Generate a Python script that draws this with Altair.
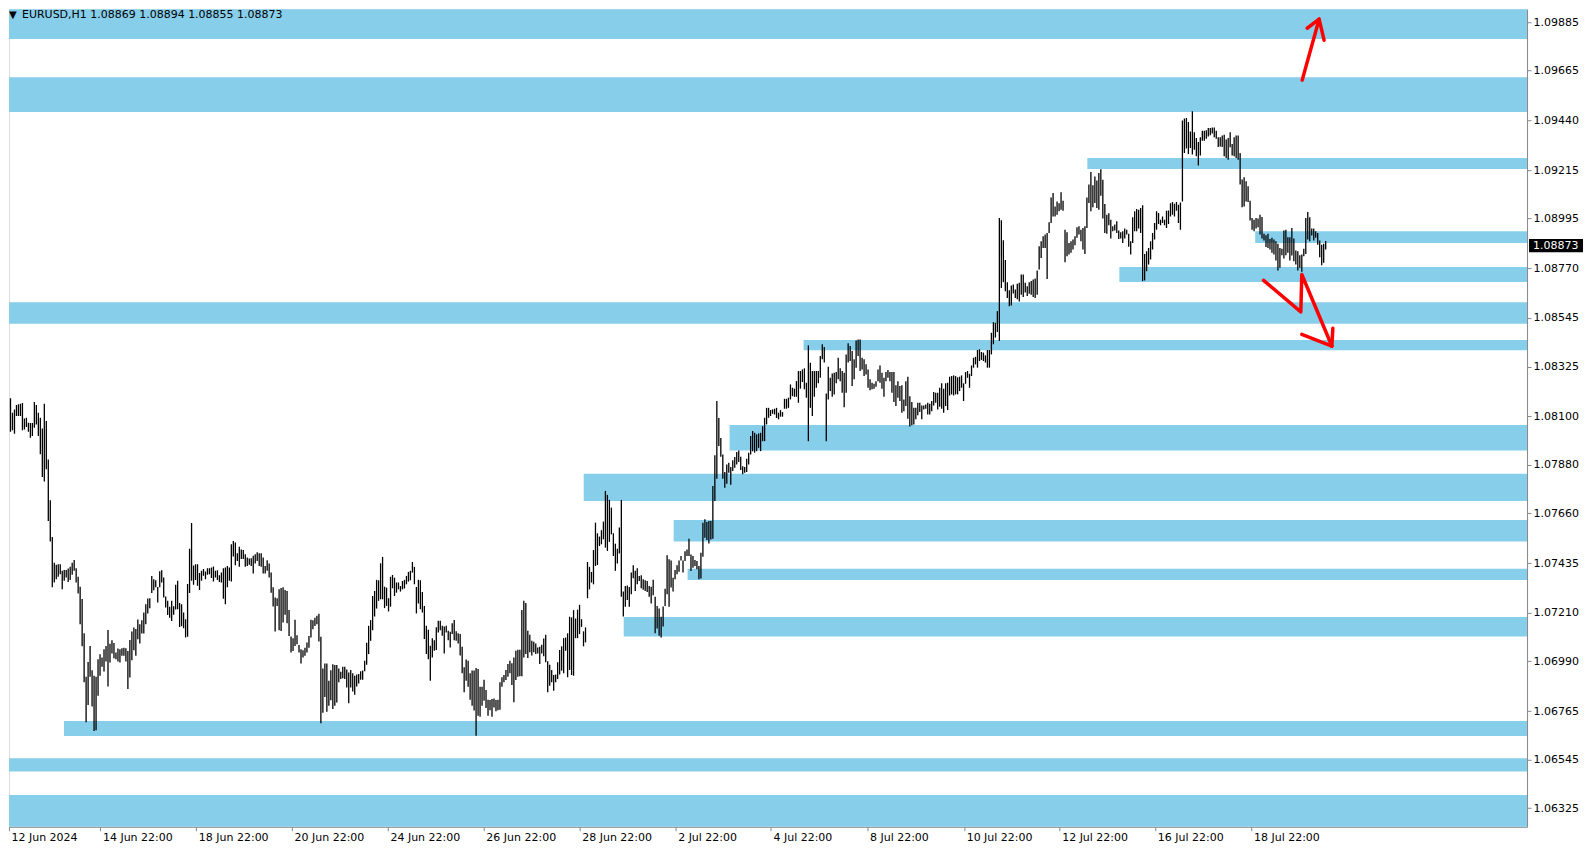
import altair as alt
import pandas as pd

# ---------------- data (prices in 1e-5 units: price = 1 + pts/100000) ----------------
high_pts = [
 8181,8116,8131,8151,8154,8157,8160,8090,8093,8071, 8069,8069,8164,8151,8116,8093,8045,8157,8078,7904,
 7720,7553,7437,7427,7430,7430,7400,7404,7404,7410, 7418,7437,7449,7412,7373,7328,7272,7117,6920,6987,
 7060,6950,6925,6920,7000,7022,7007,7045,7060,7132, 7070,7085,7073,7030,7048,7045,7049,7052,7049,7037,
 7087,7125,7143,7136,7179,7158,7176,7211,7249,7275, 7276,7377,7362,7357,7327,7398,7403,7370,7284,7264,
 7237,7264,7240,7337,7355,7254,7249,7211,7181,7340, 7500,7617,7424,7430,7430,7390,7400,7408,7397,7412,
 7412,7415,7420,7400,7403,7380,7392,7412,7415,7422, 7415,7520,7535,7528,7480,7509,7497,7494,7475,7460,
 7456,7457,7468,7475,7484,7480,7480,7460,7422,7448, 7433,7392,7325,7279,7276,7317,7322,7325,7313,7309,
 7223,7102,7095,7178,7108,7064,7045,7040,7052,7075, 7105,7178,7176,7188,7196,7206,7101,6958,6980,6980,
 6902,6950,6977,6974,6974,6958,6943,6965,6965,
 6953,6940,6951,6936,6925,6930,6933,6945,6948,6993, 7074,7151,7177,7286,7309,7359,7357,7434,7463,7328,
 7324,7276,7373,7381,7369,7347,7347,7331,7354,7359, 7377,7395,7400,7440,7418,7327,7359,7357,7304,7241,
 7151,7133,7061,7095,7086,7144,7174,7174,7151,7148, 7151,7129,7124,7163,7177,7126,7117,7114,7056,6963,
 6998,6993,6936,6948,6948,6960,6955,6875,6875,6907, 6860,6816,6815,6819,6822,6815,6816,6895,6918,6928,
 6951,6978,6993,6981,7008,7038,7043,7043,7222,7264, 7254,7129,7111,7083,7079,7071,7053,7056,7065,7094,
 7111,6990,6975,6951,6928,6930,6986,7041,7058,7095, 7098,7117,7192,7189,7222,7184,7224,7246,7181,7126,
 7144,7440,7418,7395,7494,7618,7570,7555,7584,7623, 7762,7744,7721,7686,7570,7523,7500,7596,7721,7306,
 7331,7334,7327,7392,7425,7400,7412,7377,7380,7362, 7357,7354,7331,7328,7359,7282,7241,7229,7192,7238,
 7319,7470,7452,7447,7369,7404,7425,7447,7467,7447,
 7489,7497,7545,7474,7467,7449,7444,7422,7482,7618, 7633,7621,7626,7626,7784,7923,8169,8092,8001,7927,
 7847,7882,7889,7870,7901,7915,7938,7945,7917,7874, 7870,7908,7935,8010,8033,8025,8018,8022,8025,8055,
 8093,8138,8138,8128,8131,8134,8138,8116,8128,8119, 8179,8179,8184,8244,8229,8225,8259,8305,8305,8312,
 8317,8252,8421,8342,8305,8305,8305,8305,8373,8426, 8414,8203,8324,8274,8294,8297,8300,8365,8317,8305,
 8297,8380,8430,8418,8395,8358,8443,8448,8448,8365, 8358,8335,8312,8267,8252,8247,8259,8312,8330,8297,
 8274,8300,8309,8300,8300,8300,8240,8259,8237,8240, 8176,8259,8279,8191,8164,8138,8138,8161,8161,8149,
 8149,8153,8161,8156,8169,8210,8206,8206,8229,8249, 8225,8249,8252,8279,8282,8285,8282,8276,8279,8285,
 8249,8300,8305,8292,8330,8365,8369,8400,8403,8391, 8388,8376,8400,8400,8478,8526,8523,8576,8998,8988,
 8897,8807,8707,8671,8692,8697,8674,
 8700,8704,8742,8742,8704,8689,8707,8712,8719,8724, 8760,8870,8893,8915,8923,8930,8978,9091,9111,9050,
 9073,9065,9114,9076,8945,8933,8885,8893,8900,8915, 8956,8960,8945,8953,8960,9091,9149,9206,9146,9186,
 9167,9201,9219,9171,9061,9013,9019,8990,8960,8968, 8983,8941,8933,8938,8950,8945,8926,8893,9001,9028,
 9039,9035,9043,9055,8835,8847,8862,8893,8930,8975, 9028,9020,8990,9005,8990,9031,9032,9065,9070,9062,
 9070,9058,9068,9439,9448,9451,9433,9390,9481,9386, 9360,9342,9363,9393,9393,9395,9405,9405,9408,9408,
 9393,9363,9363,9371,9375,9353,9360,9386,9333,9363, 9371,9371,9292,9172,9182,9164,9141,9076,8998,8990,
 8998,8995,9013,9002,8926,8920,8926,8903,8908,8900, 8893,8881,8862,8859,8941,8945,8911,8911,8953,8905,
 8850,8847,8829,8832,8859,8998,9025,9001,8950,8950, 8938,8930,8896,8877,8881,8894,
]
low_pts = [
 8030,8036,8021,8101,8101,8101,8036,8040,8051,8030, 8003,8010,8048,8063,8010,7928,7825,7804,7860,7626,
 7533,7325,7347,7362,7373,7385,7316,7355,7370,7349, 7358,7382,7400,7347,7297,7158,7058,6895,6714,6792,
 6920,6785,6675,6678,6834,6925,6965,6944,6989,6876, 6985,7025,7004,7000,6989,6985,7015,7015,6989,6865,
 6917,6995,7040,7015,7090,7071,7116,7116,7158,7207, 7231,7299,7312,7325,7256,7325,7347,7279,7234,7200,
 7188,7173,7201,7225,7226,7146,7149,7140,7098,7101, 7299,7355,7337,7358,7332,7313,7355,7378,7362,7382,
 7385,7367,7352,7370,7358,7349,7347,7273,7249,7325, 7355,7352,7465,7425,7445,7418,7453,7453,7418,7422,
 7427,7422,7388,7433,7445,7422,7418,7388,7388,7400, 7370,7301,7238,7125,7241,7131,7128,7166,7201,7163,
 7105,7030,7037,7060,7067,7030,6980,7007,7015,7030, 7052,7098,7135,7150,7158,7080,6710,6757,6829,6762,
 6789,6814,6774,6789,6804,6895,6910,6914,6910,
 6872,6800,6872,6854,6839,6876,6890,6907,6907,6945, 6975,7023,7083,7131,7193,7229,7264,7271,7271,7231,
 7241,7216,7238,7321,7286,7301,7316,7306,7316,7320, 7339,7351,7357,7392,7339,7207,7252,7226,7211,7091,
 7023,7000,6902,7008,7038,7041,7121,7131,7106,7026, 7121,7086,7053,7114,7086,7083,7071,7016,6936,6850,
 6902,6875,6816,6789,6767,6653,6744,6739,6789,6812, 6779,6744,6769,6739,6781,6764,6769,6771,6875,6895,
 6905,6920,6936,6883,6805,6905,6920,6922,6922,7008, 7023,7005,7031,7016,7031,7023,7026,6978,7026,7013,
 6986,6850,6880,6895,6857,6895,6910,6930,6948,6936, 7038,6918,6951,6928,6925,7095,7095,7114,7146,7058,
 7076,7276,7316,7347,7339,7422,7426,7512,7520,7543, 7505,7490,7531,7565,7467,7400,7433,7478,7282,7193,
 7237,7268,7237,7294,7366,7309,7339,7354,7321,7314, 7309,7304,7282,7252,7289,7117,7139,7106,7098,7148,
 7241,7294,7237,7324,7306,7362,7384,7396,7447,7392,
 7444,7467,7467,7399,7414,7422,7407,7362,7365,7464, 7550,7539,7524,7542,7545,7716,7817,7965,7916,7817,
 7776,7794,7844,7790,7852,7867,7882,7893,7856,7837, 7844,7847,7882,7927,7942,7935,7942,7957,7942,7987,
 7987,8063,8093,8101,8111,8108,8092,8086,8098,8098, 8134,8134,8138,8176,8191,8188,8188,8161,8225,8255,
 8222,8184,7987,8138,8101,8188,8229,8249,8274,8358, 8343,7987,8176,8214,8188,8199,8249,8267,8259,8206,
 8141,8206,8343,8350,8237,8267,8320,8373,8305,8312, 8282,8289,8229,8218,8222,8225,8234,8259,8252,8225,
 8188,8259,8274,8259,8206,8164,8146,8184,8169,8116, 8123,8146,8089,8053,8059,8063,8086,8104,8119,8086,
 8131,8134,8108,8108,8123,8149,8161,8131,8143,8134, 8116,8146,8128,8194,8199,8194,8199,8199,8214,8229,
 8169,8247,8274,8229,8282,8320,8335,8320,8350,8355, 8350,8343,8320,8320,8380,8426,8456,8481,8441,8681,
 8707,8666,8636,8598,8601,8656,8636,
 8630,8620,8650,8640,8660,8645,8655,8650,8640,8635, 8650,8764,8817,8862,8862,8722,8930,8975,9005,9005,
 9013,9028,9035,9031,8797,8825,8832,8840,8855,8874, 8908,8923,8893,8855,8835,8953,9066,9028,9046,9066,
 9043,9035,9099,8995,8930,8926,8965,8905,8938,8941, 8930,8903,8905,8885,8905,8923,8867,8832,8885,8938,
 8938,8950,8930,8712,8715,8757,8787,8810,8855,8900, 8945,8971,8965,8975,8965,8953,8971,9005,9013,9005,
 9031,8975,8945,9073,9292,9312,9288,9315,9285,9307, 9277,9235,9281,9348,9348,9357,9367,9372,9380,9363,
 9357,9319,9322,9319,9277,9269,9262,9318,9281,9277, 9269,9262,9149,9046,9050,9073,9070,8986,8945,8938,
 8950,8956,8923,8905,8896,8866,8862,8855,8840,8832, 8805,8760,8772,8829,8814,8829,8840,8805,8828,8802,
 8787,8760,8772,8754,8825,8835,8900,8893,8918,8896, 8908,8877,8820,8784,8795,8855,
]

# support / resistance zones: (first bar index, low price, high price); None = from left edge
zone_start = [None, None, 541.2, 625.6, 557.3, None, 398.6, 361.4, 288.1, 333.3, 340.3, 308.2, 26.9, None, None]
zone_low   = [1.09808, 1.09478, 1.09220, 1.08885, 1.08708, 1.08519, 1.08399, 1.07945, 1.07716, 1.07533, 1.07358, 1.07102, 1.06652, 1.06491, 1.06200]
zone_high  = [1.10000, 1.09635, 1.09270, 1.08938, 1.08776, 1.08616, 1.08445, 1.08060, 1.07839, 1.07630, 1.07409, 1.07191, 1.06720, 1.06551, 1.06385]

price_ticks = [1.06325, 1.06545, 1.06765, 1.06990, 1.07210, 1.07435, 1.07660, 1.07880, 1.08100,
               1.08325, 1.08545, 1.08770, 1.08995, 1.09215, 1.09440, 1.09665, 1.09885]
time_tick_pos = [None, 45.2, 93.4, 141.5, 189.7, 237.9, 286.1, 334.3, 382.2, 430.7, 479.3, 527.3, 575.4, 623.7]
time_labels = ["12 Jun 2024", "14 Jun 22:00", "18 Jun 22:00", "20 Jun 22:00", "24 Jun 22:00",
               "26 Jun 22:00", "28 Jun 22:00", "2 Jul 22:00", "4 Jul 22:00", "8 Jul 22:00",
               "10 Jul 22:00", "12 Jul 22:00", "16 Jul 22:00", "18 Jul 22:00"]

# hand-drawn red arrows: (segment id, bar index, price)
arrow_seg   = [0, 0, 1, 1, 2, 2, 3, 3, 3, 3, 4, 4, 5, 5]
arrow_idx   = [649.2, 657.7, 651.7, 657.7, 657.7, 660.2, 629.8, 648.5, 649.0, 664.1, 649.0, 664.1, 664.6, 664.1]
arrow_price = [1.09622, 1.09898, 1.09857, 1.09898, 1.09898, 1.09803, 1.08715, 1.08573, 1.08742, 1.08418, 1.08471, 1.08418, 1.08498, 1.08418]

last_ohlc = [1.08869, 1.08894, 1.08855, 1.08873]
header = "EURUSD,H1  " + " ".join(f"{v:.5f}" for v in last_ohlc)

# ---------------- layout constants ----------------
W, H = 1519, 818
X_MIN, X_MAX = -0.7534, 762.2
Y_MIN, Y_MAX = 1.06241, 1.09943

# ---------------- build tables ----------------
n = min(len(high_pts), len(low_pts))
bars = pd.DataFrame({
    "i": list(range(n)),
    "high": [1 + v / 1e5 for v in high_pts[:n]],
    "low": [1 + v / 1e5 for v in low_pts[:n]],
})
zones = pd.DataFrame({"x0": [X_MIN if s is None else s for s in zone_start],
                      "x1": [X_MAX] * len(zone_start), "lo": zone_low, "hi": zone_high})
arrows = pd.DataFrame({"seg": arrow_seg, "i": arrow_idx, "p": arrow_price,
                       "ord": list(range(len(arrow_seg)))})

tick_vals = [X_MIN if t is None else t for t in time_tick_pos]
expr = "''"
for v, s in reversed(list(zip(tick_vals, time_labels))):
    expr = f"(abs(datum.value - {v}) < 1 ? '{s}' : {expr})"

xs = alt.Scale(domain=[X_MIN, X_MAX], nice=False, zero=False)
ys = alt.Scale(domain=[Y_MIN, Y_MAX], nice=False, zero=False)

x_axis = alt.Axis(values=tick_vals, labelExpr=expr, orient="bottom", title=None, grid=False,
                  tickSize=4, labelAlign="left", labelOffset=2, labelPadding=1, labelFlush=False,
                  labelOverlap=False, labelFont="DejaVu Sans", labelFontSize=11, labelColor="black")
y_axis = alt.Axis(values=price_ticks, format=".5f", orient="right", title=None, grid=False,
                  tickSize=4, labelPadding=2, labelOverlap=False, labelFlush=False,
                  labelFont="DejaVu Sans", labelFontSize=11, labelColor="black")

zone_layer = alt.Chart(zones).mark_rect(color="#87CEEB", clip=True).encode(
    x=alt.X("x0:Q", scale=xs, axis=x_axis), x2="x1:Q",
    y=alt.Y("lo:Q", scale=ys, axis=y_axis), y2="hi:Q")

bar_layer = alt.Chart(bars).mark_rule(color="black", strokeWidth=1.3, clip=True).encode(
    x=alt.X("i:Q", scale=xs), y=alt.Y("high:Q", scale=ys), y2="low:Q")

arrow_layer = alt.Chart(arrows).mark_line(color="#FF0000", strokeWidth=3.5, strokeCap="round",
                                          strokeJoin="round", clip=True).encode(
    x=alt.X("i:Q", scale=xs), y=alt.Y("p:Q", scale=ys), detail="seg:N", order="ord:Q")

tri_layer = alt.Chart(pd.DataFrame({"t": ["\u25BC"]})).mark_text(
    align="left", baseline="alphabetic", font="DejaVu Sans", fontSize=10, color="black").encode(
    x=alt.value(0), y=alt.value(8.8), text="t:N")
header_layer = alt.Chart(pd.DataFrame({"t": [header]})).mark_text(
    align="left", baseline="alphabetic", font="DejaVu Sans", fontSize=11, color="black").encode(
    x=alt.value(13), y=alt.value(8.8), text="t:N")

cur = pd.DataFrame({"p": [last_ohlc[3]], "lo": [last_ohlc[3] - 0.000300], "hi": [last_ohlc[3] + 0.000300],
                    "t": [f"{last_ohlc[3]:.5f}"]})
cur_box = alt.Chart(cur).mark_rect(color="black", clip=False).encode(
    x=alt.value(W + 2), x2=alt.value(W + 56), y=alt.Y("lo:Q", scale=ys), y2="hi:Q")
cur_text = alt.Chart(cur).mark_text(align="left", baseline="middle", font="DejaVu Sans",
                                    fontSize=11, color="white", clip=False).encode(
    x=alt.value(W + 6), y=alt.Y("p:Q", scale=ys), text="t:N")

chart = alt.layer(zone_layer, bar_layer, arrow_layer, tri_layer, header_layer, cur_box, cur_text).properties(
    width=W, height=H, padding=0
).configure_view(stroke="black", strokeWidth=1).configure_axis(
    domainColor="black", tickColor="black", labelColor="black", labelFont="DejaVu Sans",
    labelFontSize=11, domainWidth=1, tickWidth=1
).configure(background="white")

chart.save("out.html", embed_options={"renderer": "svg", "actions": False})
